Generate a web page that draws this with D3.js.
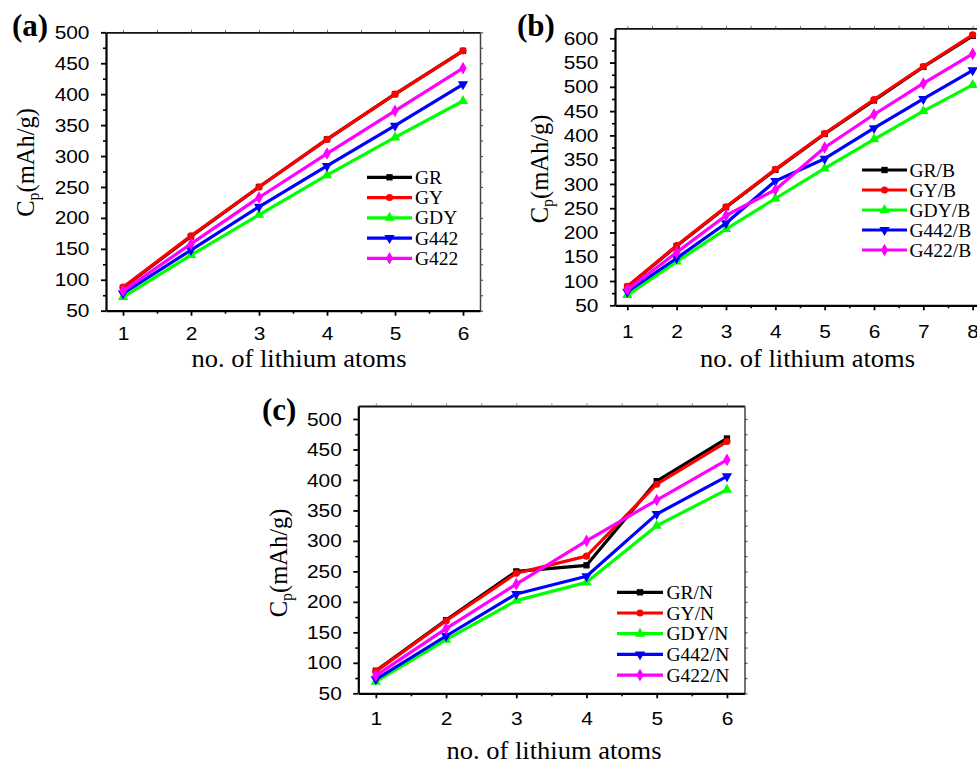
<!DOCTYPE html>
<html>
<head>
<meta charset="utf-8">
<script src="https://cdn.jsdelivr.net/npm/d3@7"></script>
<style>
  html, body { margin: 0; padding: 0; background: #fff; }
  svg { display: block; }
  .sans { font-family: "Liberation Sans", Arial, Helvetica, sans-serif; }
  .serif { font-family: "Liberation Serif", "Times New Roman", Times, serif; }
</style>
</head>
<body>
<svg id="chart" width="977" height="763"></svg>
<script>
// ---------------- DATA ----------------
const xA = [1, 2, 3, 4, 5, 6];
const namesA = ["GR", "GY", "GDY", "G442", "G422"];
const GR_a   = [87, 170, 250, 327, 400, 470];
const GY_a   = [88, 171, 250, 327, 400, 470];
const GDY_a  = [72, 140, 205, 269, 330, 389];
const G442_a = [78, 148, 218, 284, 349, 416];
const G422_a = [82, 158, 233, 304, 373, 442];

const xB = [1, 2, 3, 4, 5, 6, 7, 8];
const namesB = ["GR/B", "GY/B", "GDY/B", "G442/B", "G422/B"];
const GR_b   = [88, 172, 252, 329, 403, 472, 541, 605];
const GY_b   = [89, 173, 253, 330, 404, 474, 542, 607];
const GDY_b  = [71, 140, 207, 270, 332, 392, 450, 504];
const G442_b = [78, 147, 219, 306, 352, 415, 475, 534];
const G422_b = [82, 159, 235, 288, 375, 443, 507, 568];

const xC = [1, 2, 3, 4, 5, 6];
const namesC = ["GR/N", "GY/N", "GDY/N", "G442/N", "G422/N"];
const GR_c   = [87, 170, 250, 260, 398, 468];
const GY_c   = [86, 169, 247, 275, 393, 463];
const GDY_c  = [69, 138, 202, 232, 325, 384];
const G442_c = [73, 144, 213, 242, 344, 406];
const G422_c = [79, 156, 229, 300, 367, 433];

const xTitle = "no. of lithium atoms";
const colors = ["#000000", "#ff0000", "#00ff00", "#0000ff", "#ff00ff"];
const symbols = ["square", "circle", "triUp", "triDown", "diamond"];

// ---------------- LAYOUT ----------------
const panels = [
  { label: "(a)", xs: xA, names: namesA, ys: [GR_a, GY_a, GDY_a, G442_a, G422_a],
    left: 106, top: 32.3, right: 480, bottom: 310.7, xDom: [0.75, 6.25], yDom: [50, 500],
    labelPos: [12, 36], yTitle: [34, 162.5], xTitlePos: [299, 367], xLabOff: 16,
    legend: { x0: 367, x1: 412, tx: 415, y0: 177.3, dy: 20.25 } },
  { label: "(b)", xs: xB, names: namesB, ys: [GR_b, GY_b, GDY_b, G442_b, G422_b],
    left: 615, top: 28.3, right: 985, bottom: 305.3, xDom: [0.75, 8.25], yDom: [50, 620.6],
    labelPos: [517, 36], yTitle: [548, 169], xTitlePos: [807.5, 367], xLabOff: 19,
    legend: { x0: 862, x1: 907, tx: 909.5, y0: 170, dy: 20 } },
  { label: "(c)", xs: xC, names: namesC, ys: [GR_c, GY_c, GDY_c, G442_c, G422_c],
    left: 358.3, top: 406, right: 744.5, bottom: 693.3, xDom: [0.75, 6.25], yDom: [50, 521.3],
    labelPos: [262, 420], yTitle: [287, 563], xTitlePos: [554, 759], xLabOff: 18,
    legend: { x0: 617, x1: 663, tx: 666.5, y0: 592.3, dy: 20.7 } }
];

const svg = d3.select("#chart");

function symbolPath(kind) {
  const s = {
    square: d3.symbol(d3.symbolSquare, 40),
    circle: d3.symbol(d3.symbolCircle, 40),
    triUp: d3.symbol(d3.symbolTriangle, 46),
    triDown: d3.symbol(d3.symbolTriangle, 46),
    diamond: d3.symbol(d3.symbolDiamond, 46)
  }[kind];
  return s();
}
function symbolRot(kind) { return kind === "triDown" ? " rotate(180)" : ""; }

panels.forEach(p => {
  const x = d3.scaleLinear().domain(p.xDom).range([p.left, p.right]);
  const y = d3.scaleLinear().domain(p.yDom).range([p.bottom, p.top]);
  const g = svg.append("g");

  const xMax = d3.max(p.xs);
  const xMajor = p.xs;
  const xMinor = d3.range(1.5, xMax, 1);
  const yMajor = d3.range(50, p.yDom[1] + 0.01, 50);
  const yMinor = d3.range(75, p.yDom[1], 50);

  // top & right frame with small ticks
  const topAx = g.append("g").attr("transform", `translate(0,${p.top})`)
    .call(d3.axisTop(x).tickValues(xMajor.concat(xMinor)).tickSize(2.5).tickFormat("").tickSizeOuter(0));
  topAx.select(".domain").attr("stroke", "#111").attr("stroke-width", 1.8);
  topAx.selectAll(".tick line").attr("stroke", "#777").attr("stroke-width", 1);
  const rightAx = g.append("g").attr("transform", `translate(${p.right},0)`)
    .call(d3.axisRight(y).tickValues(yMajor.concat(yMinor)).tickSize(3).tickFormat("").tickSizeOuter(0));
  rightAx.select(".domain").attr("stroke", "#444").attr("stroke-width", 1.5);
  rightAx.selectAll(".tick line").attr("stroke", "#555").attr("stroke-width", 1.2);

  // bottom axis
  const bMin = g.append("g").attr("transform", `translate(0,${p.bottom})`)
    .call(d3.axisBottom(x).tickValues(xMinor).tickSize(3).tickFormat("").tickSizeOuter(0));
  bMin.select(".domain").remove();
  bMin.selectAll(".tick line").attr("stroke", "#000").attr("stroke-width", 1.6);
  const bAx = g.append("g").attr("transform", `translate(0,${p.bottom})`)
    .call(d3.axisBottom(x).tickValues(xMajor).tickSize(5).tickPadding(p.xLabOff - 5).tickSizeOuter(0).tickFormat(d3.format("d")));
  bAx.attr("font-family", null).attr("font-size", null).attr("class", "sans");
  bAx.select(".domain").attr("stroke", "#000").attr("stroke-width", 2.2);
  bAx.selectAll(".tick line").attr("stroke", "#000").attr("stroke-width", 1.8);
  bAx.selectAll(".tick text").style("font-size", "19px").attr("fill", "#000")
    .attr("transform", "scale(1.1,1)");

  // left axis
  const lMin = g.append("g").attr("transform", `translate(${p.left},0)`)
    .call(d3.axisLeft(y).tickValues(yMinor).tickSize(3).tickFormat("").tickSizeOuter(0));
  lMin.select(".domain").remove();
  lMin.selectAll(".tick line").attr("stroke", "#000").attr("stroke-width", 1.6);
  const lAx = g.append("g").attr("transform", `translate(${p.left},0)`)
    .call(d3.axisLeft(y).tickValues(yMajor).tickSize(5).tickPadding(10).tickSizeOuter(0).tickFormat(d3.format("d")));
  lAx.attr("font-family", null).attr("font-size", null).attr("class", "sans");
  lAx.select(".domain").attr("stroke", "#000").attr("stroke-width", 2.2);
  lAx.selectAll(".tick line").attr("stroke", "#000").attr("stroke-width", 1.8);
  lAx.selectAll(".tick text").style("font-size", "19px").attr("fill", "#000")
    .attr("transform", "scale(1.1,1)");

  // series
  const line = d3.line().x((d, i) => x(p.xs[i])).y(d => y(d));
  p.ys.forEach((vals, si) => {
    g.append("path").datum(vals).attr("d", line)
      .attr("fill", "none").attr("stroke", colors[si]).attr("stroke-width", 3.2)
      .attr("stroke-linejoin", "round");
    g.selectAll(null).data(vals).enter().append("path")
      .attr("d", symbolPath(symbols[si]))
      .attr("transform", (d, i) => `translate(${x(p.xs[i])},${y(d)})` + symbolRot(symbols[si]))
      .attr("fill", colors[si]);
  });

  // legend
  const L = p.legend;
  p.names.forEach((nm, si) => {
    const yy = L.y0 + si * L.dy;
    g.append("line").attr("x1", L.x0).attr("x2", L.x1).attr("y1", yy).attr("y2", yy)
      .attr("stroke", colors[si]).attr("stroke-width", 3.2);
    g.append("path").attr("d", symbolPath(symbols[si]))
      .attr("transform", `translate(${(L.x0 + L.x1) / 2},${yy})` + symbolRot(symbols[si]))
      .attr("fill", colors[si]);
    g.append("text").attr("class", "serif").attr("x", L.tx).attr("y", yy + 6.5)
      .style("font-size", "19.5px").attr("fill", "#000").text(nm);
  });

  // panel label
  g.append("text").attr("class", "serif").attr("x", p.labelPos[0]).attr("y", p.labelPos[1])
    .style("font-weight", "bold").style("font-size", "31px").text(p.label);

  // x title
  g.append("text").attr("class", "serif").attr("x", p.xTitlePos[0]).attr("y", p.xTitlePos[1])
    .attr("text-anchor", "middle").style("font-size", "24.5px")
    .attr("textLength", 215).attr("lengthAdjust", "spacingAndGlyphs").text(xTitle);

  // y title
  const yt = g.append("text").attr("class", "serif")
    .attr("transform", `translate(${p.yTitle[0]},${p.yTitle[1]}) rotate(-90)`)
    .attr("text-anchor", "middle").style("font-size", "24.5px");
  yt.append("tspan").text("C");
  yt.append("tspan").style("font-size", "16px").attr("dy", 5).text("p");
  yt.append("tspan").attr("dy", -5).text("(mAh/g)");
});
</script>
</body>
</html>
